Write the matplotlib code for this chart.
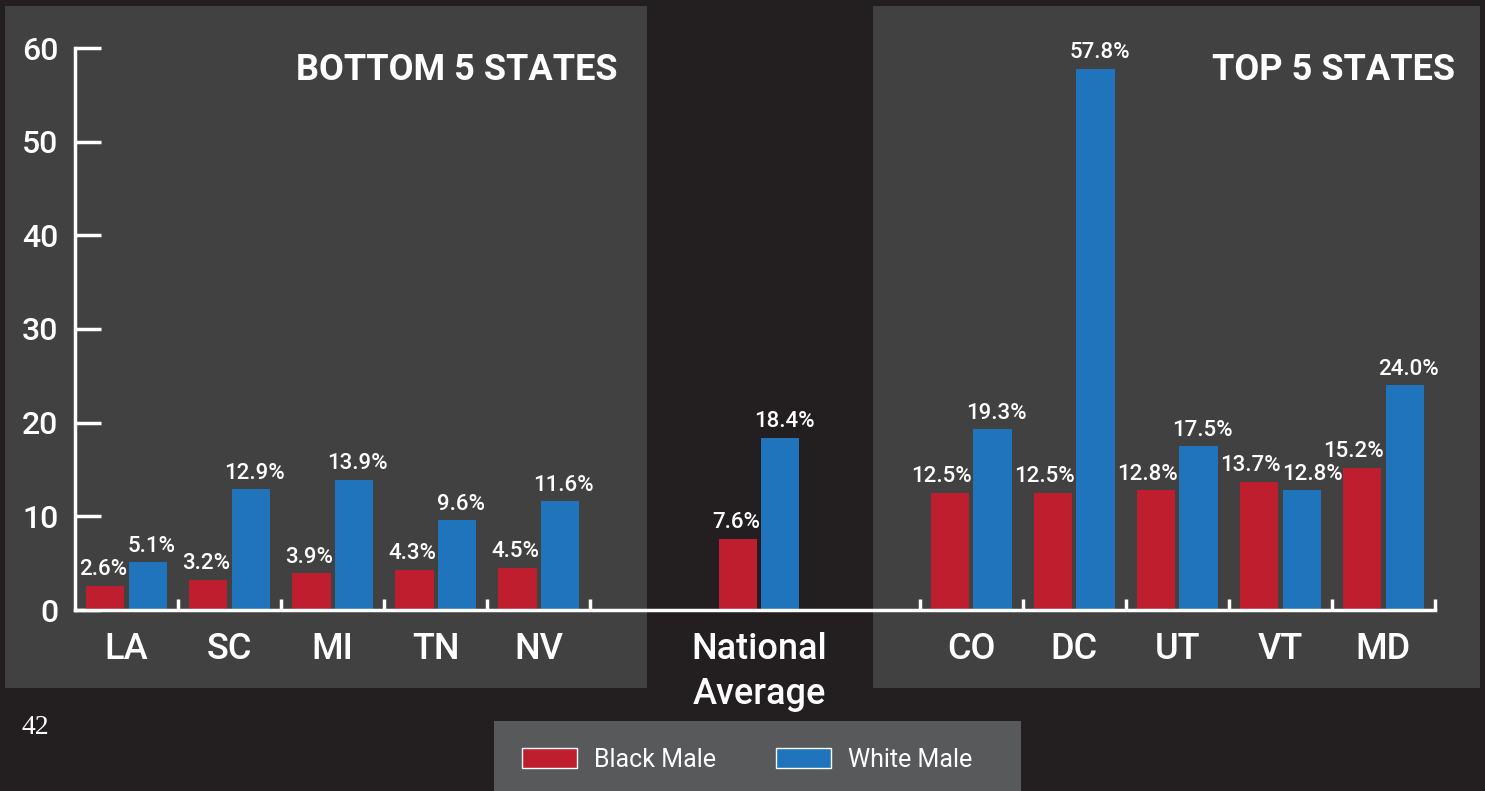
import numpy as np
import matplotlib
matplotlib.use("Agg")
import matplotlib.pyplot as plt
import matplotlib.patches as mpatches

# data (percent)
bottom_states = ["LA", "SC", "MI", "TN", "NV"]
bottom_black = [2.6, 3.2, 3.9, 4.3, 4.5]
bottom_white = [5.1, 12.9, 13.9, 9.6, 11.6]

national_label = "National\nAverage"
national_black = 7.6
national_white = 18.4

top_states = ["CO", "DC", "UT", "VT", "MD"]
top_black = [12.5, 12.5, 12.8, 13.7, 15.2]
top_white = [19.3, 57.8, 17.5, 12.8, 24.0]

series_names = ["Black Male", "White Male"]
yticks = [0, 10, 20, 30, 40, 50, 60]

# colours
BG = "#231f20"
PANEL = "#414141"
LEG_BG = "#58595b"
RED = "#be1e2d"
BLUE = "#1f74bb"
FONT = "Roboto"

W, H = 1485, 791
fig = plt.figure(figsize=(W / 100, H / 100), dpi=100, facecolor=BG)

def fig_rect(x0, y0, x1, y1, color):
    # pixel box (from top-left) -> figure rectangle
    r = mpatches.Rectangle((x0 / W, 1 - y1 / H), (x1 - x0) / W, (y1 - y0) / H,
                           transform=fig.transFigure, facecolor=color,
                           edgecolor="none", zorder=-5)
    fig.patches.append(r)

fig_rect(5, 6, 647, 688, PANEL)
fig_rect(873, 6, 1480, 688, PANEL)
fig_rect(494, 721, 1021, 791, LEG_BG)

ax = fig.add_axes([75 / W, 181 / H, 1360 / W, 562 / H])
ax.set_facecolor("none")
ax.set_zorder(2)

# group layout
left_centers = np.arange(len(bottom_states)) + 0.5
nat_center = 6.64
right_start = 8.2
right_centers = right_start + np.arange(len(top_states)) + 0.5

labels = bottom_states + [national_label] + top_states
centers = np.concatenate([left_centers, [nat_center], right_centers])
black = bottom_black + [national_black] + top_black
white = bottom_white + [national_white] + top_white

bw = 0.37
off = 0.205
ax.bar(centers - off, black, width=bw, color=RED, zorder=2)
ax.bar(centers + off, white, width=bw, color=BLUE, zorder=2)

lab_kw = dict(color="white", fontsize=16, fontfamily=FONT, fontweight="medium",
              va="bottom", textcoords="offset points", zorder=3)
for c, b, w in zip(centers, black, white):
    ax.annotate(f"{b:.1f}%", (c - off + bw / 2, b), xytext=(2, 4), ha="right", **lab_kw)
    if abs(w - b) < 1.5:
        ax.annotate(f"{w:.1f}%", (c + off - bw / 2, w), xytext=(0, 4), ha="left", **lab_kw)
    else:
        ax.annotate(f"{w:.1f}%", (c + off, w), xytext=(3, 4), ha="center", **lab_kw)

ax.set_xlim(0, right_start + 5)
ax.set_ylim(0, 60)

# boundary ticks (unlabelled) and category labels at group centres
bounds = list(np.arange(1, 6)) + list(right_start + np.arange(6))
ax.set_xticks(bounds)
ax.set_xticklabels([])
ax.tick_params(axis="x", which="major", direction="in", length=8, width=2.5, color="white")
ax.set_xticks(centers, minor=True)
ax.set_xticklabels(labels, minor=True, fontsize=26, fontfamily=FONT,
                   fontweight="medium", color="white", linespacing=1.35)
ax.tick_params(axis="x", which="minor", length=0, pad=16)

ax.set_yticks(yticks)
ax.set_yticklabels([str(v) for v in yticks], fontsize=23, fontfamily=FONT,
                   fontweight="medium", color="white")
ax.tick_params(axis="y", direction="in", length=19, width=2.5, color="white", pad=12)

for s in ["top", "right"]:
    ax.spines[s].set_visible(False)
for s in ["left", "bottom"]:
    ax.spines[s].set_color("white")
    ax.spines[s].set_linewidth(2.5)
    ax.spines[s].set_zorder(4)

fig.text(618 / W, 1 - 70 / H, "BOTTOM 5 STATES", ha="right", va="center",
         fontsize=26, fontfamily=FONT, fontweight="bold", color="white")
fig.text(1455 / W, 1 - 70 / H, "TOP 5 STATES", ha="right", va="center",
         fontsize=26, fontfamily=FONT, fontweight="bold", color="white")
fig.text(22 / W, 1 - 728 / H, "42", ha="left", va="center",
         fontsize=20, fontfamily="Liberation Serif", color="white")

handles = [mpatches.Patch(facecolor=RED, edgecolor="white", linewidth=1),
           mpatches.Patch(facecolor=BLUE, edgecolor="white", linewidth=1)]
leg = fig.legend(handles, series_names, loc="center left",
                 bbox_to_anchor=(499 / W, 1 - 760 / H), ncol=2, frameon=False,
                 prop=dict(family=FONT, size=18, weight="normal"),
                 handlelength=2.2, handleheight=0.85, handletextpad=0.7,
                 columnspacing=2.4, labelcolor="white")

fig.savefig("out.png", dpi=100, facecolor=BG)
